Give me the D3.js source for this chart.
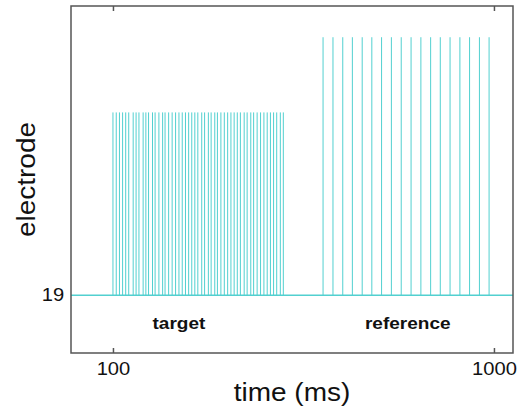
<!DOCTYPE html>
<html>
<head>
<meta charset="utf-8">
<script src="https://cdn.jsdelivr.net/npm/d3@7"></script>
<style>
  body { margin: 0; background: #fff; }
  svg { display: block; font-family: "Liberation Sans", Arial, sans-serif; }
</style>
</head>
<body>
<svg id="chart" width="517" height="410"></svg>
<script>
// spike times (ms)
const targetTimes = [100, 102, 104, 106, 108, 110, 113, 115, 117, 120, 122, 124, 127, 129, 132,
  135, 137, 140, 143, 146, 149, 152, 155, 158, 161, 164, 167, 171, 174, 178, 181, 185, 188, 192,
  196, 200, 204, 208, 212, 216, 221, 225, 230, 234, 239, 244, 249, 254, 259, 264, 269, 275, 280];
const referenceTimes = [356, 378, 401, 425, 451, 478, 507, 538, 571, 606, 643, 682, 723, 767,
  814, 863, 916, 971];
const spikeTops = [20.58, 21.23]; // target, reference
const electrode = 19;
const xTicks = [100, 1000];
const yTicks = [19];
const groupLabels = ['target', 'reference'];
const groupLabelTimes = [149, 594];

const color = '#52d0d0';
const axisColor = '#555';
const stretch = 'scale(1.12,1)';

const svg = d3.select('#chart');
const plot = { left: 71, right: 513, top: 6, bottom: 353 };

const x = d3.scaleLog().domain([77.6, 1122]).range([plot.left, plot.right]);
const y = d3.scaleLinear().domain([18.5, 21.5]).range([plot.bottom, plot.top]);

// baseline
svg.append('line')
  .attr('x1', plot.left).attr('x2', plot.right)
  .attr('y1', y(electrode)).attr('y2', y(electrode))
  .attr('stroke', color).attr('stroke-width', 1.5);

const groups = [targetTimes, referenceTimes];
groups.forEach((times, gi) => {
  svg.append('g').selectAll('line')
    .data(times)
    .enter()
    .append('line')
    .attr('x1', d => x(d)).attr('x2', d => x(d))
    .attr('y1', y(electrode)).attr('y2', y(spikeTops[gi]))
    .attr('stroke', color).attr('stroke-width', 1);
});

// axes with inward ticks
const xAxis = svg.append('g')
  .attr('transform', `translate(0,${plot.bottom})`)
  .call(d3.axisBottom(x).tickValues(xTicks).tickFormat(d3.format('d')).tickSize(-5).tickSizeOuter(0).tickPadding(9));
svg.append('g')
  .attr('transform', `translate(0,${plot.top})`)
  .call(d3.axisTop(x).tickValues(xTicks).tickFormat('').tickSize(-5).tickSizeOuter(0));
const yAxis = svg.append('g')
  .attr('transform', `translate(${plot.left},0)`)
  .call(d3.axisLeft(y).tickValues(yTicks).tickFormat(d3.format('d')).tickSize(0).tickSizeOuter(0).tickPadding(6));

svg.selectAll('.domain').remove();
svg.selectAll('.tick line').attr('stroke', axisColor).attr('stroke-width', 1.5);

xAxis.selectAll('text')
  .attr('font-size', 18).attr('fill', '#111')
  .attr('font-family', '"Liberation Sans", Arial, sans-serif')
  .attr('transform', stretch);
yAxis.selectAll('text')
  .attr('font-size', 18).attr('fill', '#111')
  .attr('font-family', '"Liberation Sans", Arial, sans-serif')
  .attr('transform', stretch);

// frame
svg.append('rect')
  .attr('x', plot.left).attr('y', plot.top)
  .attr('width', plot.right - plot.left).attr('height', plot.bottom - plot.top)
  .attr('fill', 'none').attr('stroke', axisColor).attr('stroke-width', 1.5);

// group labels
svg.append('g').selectAll('text')
  .data(groupLabels)
  .enter()
  .append('text')
  .attr('transform', (d, i) => `translate(${x(groupLabelTimes[i])},329) ${stretch}`)
  .attr('text-anchor', 'middle')
  .attr('font-size', 17)
  .attr('font-weight', 'bold')
  .attr('fill', '#111')
  .text(d => d);

// axis titles
svg.append('text')
  .attr('transform', `translate(${(plot.left + plot.right) / 2},401) ${stretch}`)
  .attr('text-anchor', 'middle')
  .attr('font-size', 25)
  .attr('fill', '#111')
  .text('time (ms)');

svg.append('text')
  .attr('transform', `translate(35,${(plot.top + plot.bottom) / 2}) rotate(-90) ${stretch}`)
  .attr('text-anchor', 'middle')
  .attr('font-size', 25)
  .attr('fill', '#111')
  .text('electrode');
</script>
</body>
</html>
